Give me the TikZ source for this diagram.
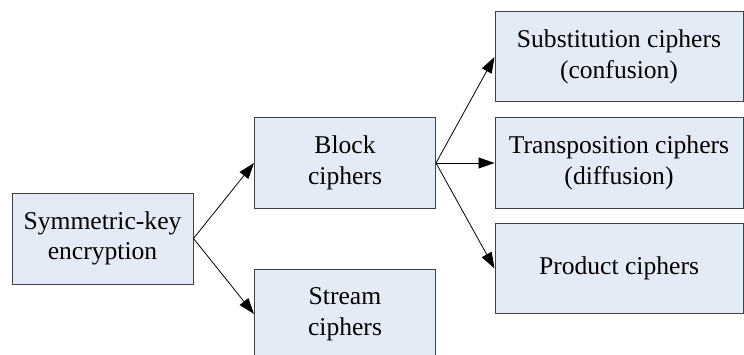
\documentclass[tikz,border=0pt]{standalone}
\usepackage{fontspec}
\setmainfont{Liberation Serif}
\usetikzlibrary{arrows.meta}

\definecolor{boxfill}{RGB}{229,235,246}
\definecolor{boxline}{RGB}{64,64,64}

\begin{document}
\begin{tikzpicture}[x = 1pt, y = 1pt,
  box/.style = {draw = boxline, fill = boxfill, line width = 1pt, align = center,
    font = \fontsize{25.6}{30.5}\selectfont, inner sep = 0pt},
  small/.style = {box, minimum width = 181pt, minimum height = 90pt},
  wide/.style = {box, minimum width = 248pt, minimum height = 90pt},
  arr/.style = {-{Triangle[length = 16pt, width = 11pt]}, line width = 0.8pt}]

\useasboundingbox (0,0) rectangle (744,354);
\clip (0,0) rectangle (744,354);

\node [small, minimum height = 91pt] (sym) at (102.5,115.5) {Symmetric-key\\encryption};
\node [small] (block) at (345,191) {Block\\ciphers};
\node [small] (stream) at (345,40) {Stream\\ciphers};

\node [wide] (subst) at (619,297) {Substitution ciphers\\(confusion)};
\node [wide] (trans) at (619,191) {Transposition ciphers\\(diffusion)};
\node [wide] (prod) at (619,85.5) {Product ciphers};

\draw [arr] (sym.east) -- (block.west);
\draw [arr] (sym.east) -- (stream.west);

\draw [arr] (block.east) -- (subst.west);
\draw [arr] (block.east) -- (trans.west);
\draw [arr] (block.east) -- (prod.west);

\end{tikzpicture}
\end{document}
